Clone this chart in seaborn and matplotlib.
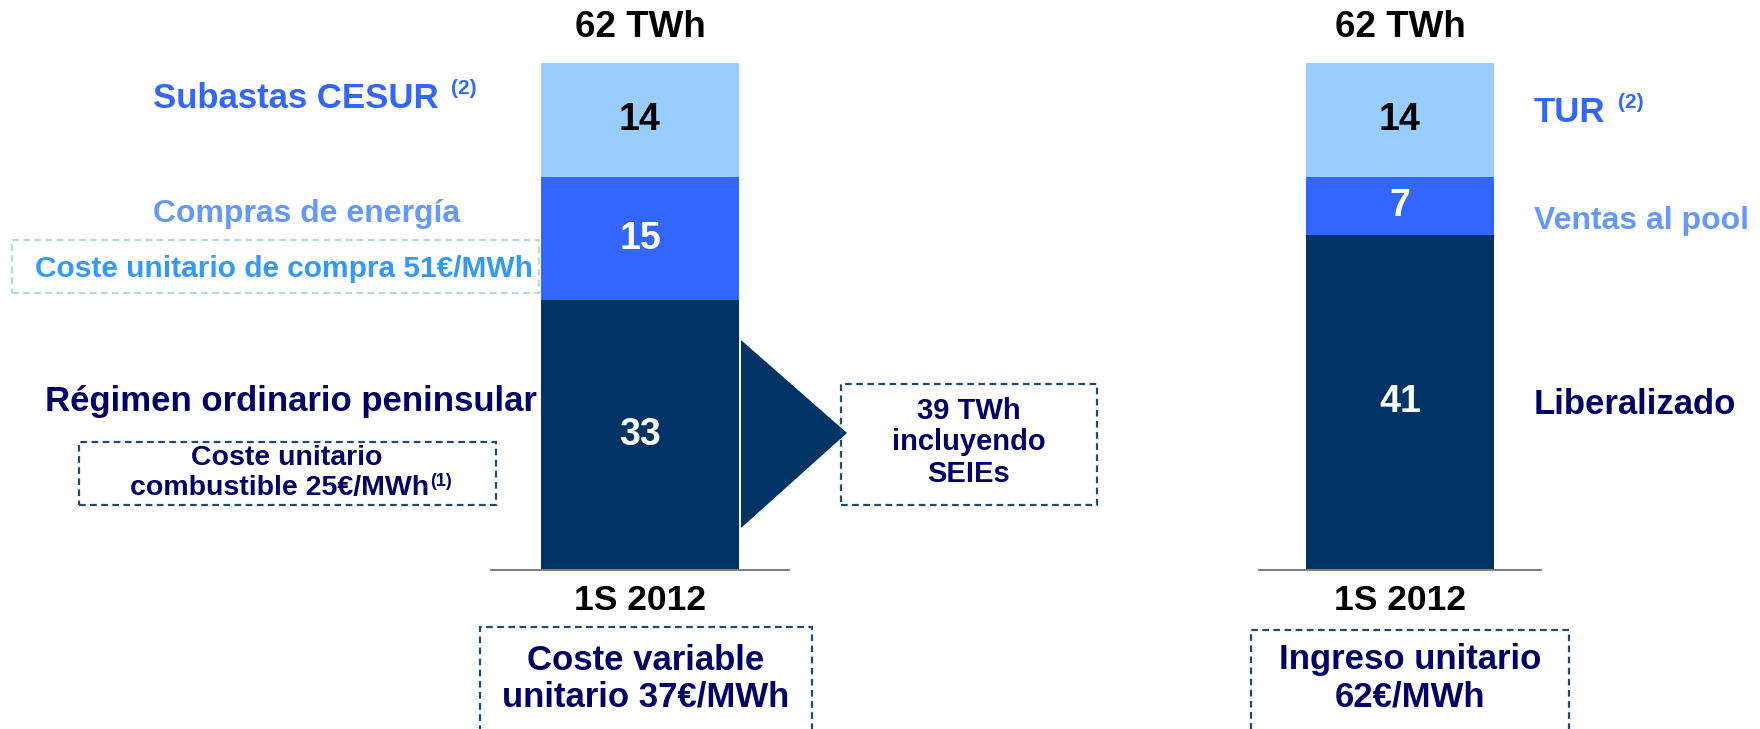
import matplotlib
matplotlib.use("Agg")
import matplotlib.pyplot as plt
import seaborn as sns
from matplotlib.patches import Rectangle, Polygon

# Datos (TWh)
periodo = ["1S 2012"]
coste_labels = ["Régimen ordinario peninsular", "Compras de energía", "Subastas CESUR"]
coste_valores = [33, 15, 14]
ingreso_labels = ["Liberalizado", "Ventas al pool", "TUR"]
ingreso_valores = [41, 7, 14]
total_twh = 62

colores = ["#003366", "#3366FF", "#99CCFF"]
color_num = ["white", "white", "black"]
navy = "#000066"
borde = "#1F4A75"

sns.set_theme(style="white")
plt.rcParams["font.family"] = ["Liberation Sans", "DejaVu Sans"]
plt.rcParams["font.weight"] = "bold"

W, H = 1760, 729
fig = plt.figure(figsize=(W / 100, H / 100), dpi=100)


def fx(x, y):
    return x / W, 1 - y / H


def stacked(ax, valores):
    cum = [sum(valores[: i + 1]) for i in range(len(valores))]
    # barras apiladas: del total hacia abajo
    for i in reversed(range(len(valores))):
        sns.barplot(x=periodo, y=[cum[i]], color=colores[i], saturation=1,
                    width=0.665, ax=ax, linewidth=0)
    for i, v in enumerate(valores):
        mid = cum[i] - v / 2
        ax.text(0, mid, str(v), ha="center", va="center", fontsize=27,
                fontweight="bold", color=color_num[i])
    ax.set_xlim(-0.5, 0.5)
    ax.set_ylim(0, total_twh)
    for s in ["top", "left", "right"]:
        ax.spines[s].set_visible(False)
    ax.spines["bottom"].set_color("#7F7F7F")
    ax.spines["bottom"].set_linewidth(1.5)
    ax.set_yticks([])
    ax.set_ylabel("")
    ax.tick_params(axis="x", length=0, pad=10, labelsize=25.5)
    for t in ax.get_xticklabels():
        t.set_fontweight("bold")
        t.set_color("black")
    ax.text(0.5, 1.035, f"{total_twh} TWh", transform=ax.transAxes, ha="center",
            va="bottom", fontsize=26.5, fontweight="bold", color="black")
    return cum


ax1 = fig.add_axes([491 / W, (H - 570) / H, 298 / W, 507 / H])
stacked(ax1, coste_valores)
ax2 = fig.add_axes([1259 / W, (H - 570) / H, 282 / W, 507 / H])
stacked(ax2, ingreso_valores)


def txt(x, y, s, size, color, ha="center"):
    return fig.text(*fx(x, y), s, ha=ha, va="center", fontsize=size,
                    fontweight="bold", color=color)


renderer = fig.canvas.get_renderer()


def sup(t, s, size, color, gap, dy):
    bb = t.get_window_extent(renderer=renderer)
    x = bb.x1 + gap
    y = (bb.y0 + bb.y1) / 2 + dy
    fig.text(x / W, y / H, s, ha="left", va="center", fontsize=size,
             fontweight="bold", color=color)


def box(x0, y0, x1, y1, color=borde):
    fig.add_artist(Rectangle(fx(x0, y1), (x1 - x0) / W, (y1 - y0) / H,
                             transform=fig.transFigure, fill=False,
                             edgecolor=color, linewidth=1.6,
                             linestyle=(0, (3, 2)), clip_on=False))


# etiquetas izquierda
t = txt(153, 98, coste_labels[2], 25, "#3366FF", ha="left")
sup(t, "(2)", 15, "#3366FF", 12, 10)
txt(153, 214, coste_labels[1], 23, "#6699FF", ha="left")
box(12, 240, 539, 293, color="#B3DADA")
txt(284, 269, "Coste unitario de compra 51€/MWh", 21.5, "#3399FF")
txt(537, 401, coste_labels[0], 25, navy, ha="right")
box(79, 442, 496, 505)
txt(287, 458, "Coste unitario", 20.5, navy)
t = txt(280, 488, "combustible 25€/MWh", 20.5, navy)
sup(t, "(1)", 13, navy, 1, 7)

# flecha y caja SEIEs
fig.add_artist(Polygon([fx(741, 340), fx(741, 528), fx(847, 433)],
                       closed=True, transform=fig.transFigure,
                       facecolor="#003366", edgecolor="none"))
box(841, 384, 1097, 505)
txt(969, 411, "39 TWh", 21, navy)
txt(969, 442, "incluyendo", 21, navy)
txt(969, 474, "SEIEs", 21, navy)

# caja inferior izquierda
box(480, 627, 812, 745)
txt(646, 660, "Coste variable", 25, navy)
txt(646, 697, "unitario 37€/MWh", 25, navy)

# etiquetas derecha
t = txt(1534, 113, ingreso_labels[2], 25, "#3366FF", ha="left")
sup(t, "(2)", 15, "#3366FF", 12, 10)
txt(1534, 221, ingreso_labels[1], 23, "#6699FF", ha="left")
txt(1534, 405, ingreso_labels[0], 25, navy, ha="left")

box(1251, 630, 1569, 745)
txt(1410, 660, "Ingreso unitario", 25, navy)
txt(1410, 697, "62€/MWh", 25, navy)

fig.savefig("out.png", dpi=100)
